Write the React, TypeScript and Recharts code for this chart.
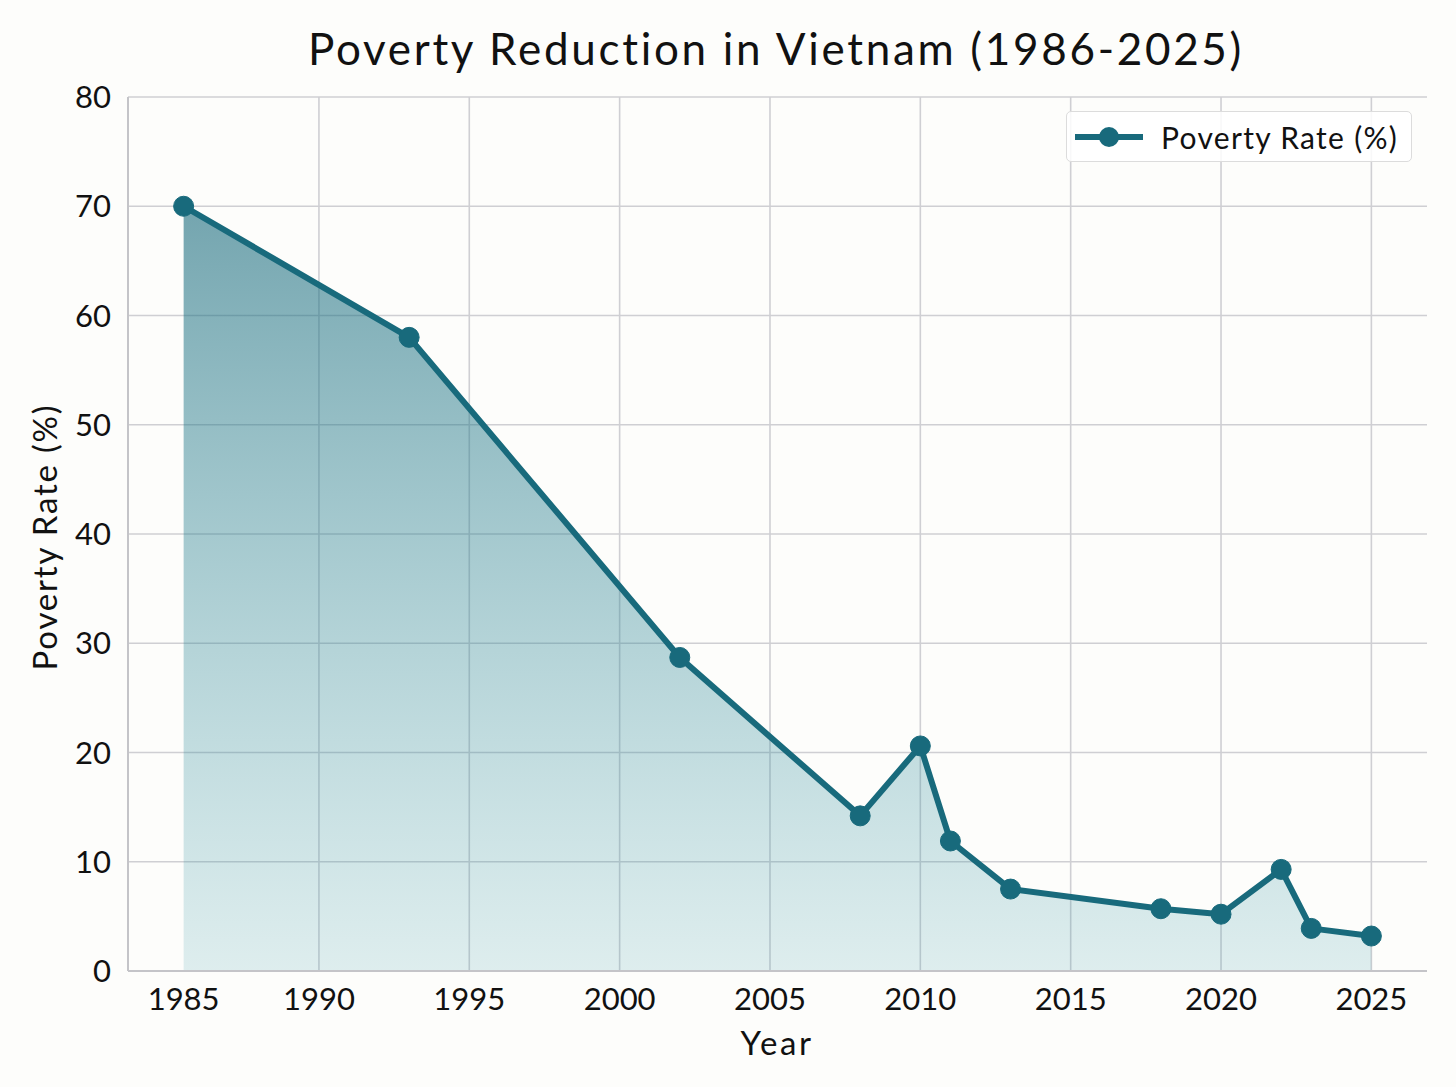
import React from 'react';
import { ComposedChart, Area, XAxis, YAxis, CartesianGrid, Legend } from 'recharts';

const years = [1985.5, 1993, 2002, 2008, 2010, 2011, 2013, 2018, 2020, 2022, 2023, 2025];
const povertyRate = [70.0, 58.0, 28.7, 14.2, 20.6, 11.9, 7.5, 5.7, 5.2, 9.3, 3.9, 3.2];
const xTicks = [1985.5, 1990, 1995, 2000, 2005, 2010, 2015, 2020, 2025];
const gridYears = [1990, 1995, 2000, 2005, 2010, 2015, 2020, 2025];
const yTicks = [0, 10, 20, 30, 40, 50, 60, 70, 80];
const xDomain = [1983.65, 2026.85];
const seriesName = 'Poverty Rate (%)';

const data = years.map((y, i) => ({ year: y, rate: povertyRate[i] }));

const FONT = 'Lato, "Noto Sans", sans-serif';
const TEAL = '#186a7c';
const BG = '#fdfdfb';
const GRID = '#cfcfd3';

const LegendBox = () => (
  <div
    style={{
      width: 346,
      height: 51,
      boxSizing: 'border-box',
      border: '1.5px solid #dcdcdc',
      borderRadius: 5,
      background: 'rgba(255,255,255,0.85)',
      display: 'flex',
      alignItems: 'center',
      fontFamily: FONT,
      fontSize: 30,
      letterSpacing: 1.3,
      color: '#111',
    }}
  >
    <svg width={94} height={50} style={{ display: 'block' }}>
      <line x1={8} x2={76} y1={25} y2={25} stroke={TEAL} strokeWidth={6} />
      <circle cx={42} cy={25} r={10} fill={TEAL} />
    </svg>
    <span>{seriesName}</span>
  </div>
);

export default function App() {
  return (
    <div
      style={{
        position: 'absolute',
        left: 0,
        top: 0,
        width: 1456,
        height: 1087,
        background: BG,
        fontFamily: FONT,
      }}
    >
      <div
        style={{
          position: 'absolute',
          left: 0,
          width: 1552,
          top: 20,
          textAlign: 'center',
          fontSize: 44,
          letterSpacing: 2.7,
          color: '#111',
          lineHeight: '56px',
        }}
      >
        Poverty Reduction in Vietnam (1986-2025)
      </div>
      <div
        style={{
          position: 'absolute',
          left: 44,
          top: 537,
          transform: 'translate(-50%, -50%) rotate(-90deg)',
          fontSize: 33,
          letterSpacing: 1.8,
          color: '#111',
          whiteSpace: 'nowrap',
        }}
      >
        {seriesName}
      </div>
      <div
        style={{
          position: 'absolute',
          left: 777,
          top: 1042,
          transform: 'translate(-50%, -50%)',
          fontSize: 33,
          letterSpacing: 2.5,
          color: '#111',
        }}
      >
        Year
      </div>
      <ComposedChart
        width={1456}
        height={1087}
        data={data}
        margin={{ top: 97, right: 29, left: 68, bottom: 56 }}
        style={{ position: 'absolute', left: 0, top: 0 }}
      >
        <defs>
          <linearGradient id="areaFill" x1="0" y1="0" x2="0" y2="1">
            <stop offset="0%" stopColor={TEAL} stopOpacity={0.6} />
            <stop offset="100%" stopColor="#3a9aa8" stopOpacity={0.16} />
          </linearGradient>
        </defs>
        <CartesianGrid
          stroke={GRID}
          strokeWidth={1.6}
          verticalCoordinatesGenerator={(props: any) => {
            const xa = props.xAxis;
            if (xa && typeof xa.scale === 'function') {
              return gridYears.map((g) => xa.scale(g));
            }
            const off = props.offset;
            return gridYears.map(
              (g) => off.left + ((g - xDomain[0]) / (xDomain[1] - xDomain[0])) * off.width
            );
          }}
        />
        <XAxis
          dataKey="year"
          type="number"
          domain={xDomain}
          allowDataOverflow
          ticks={xTicks}
          tickFormatter={(v: number) => String(Math.floor(v))}
          height={60}
          tickSize={0}
          tickMargin={17}
          axisLine={{ stroke: '#c4c4c8', strokeWidth: 2 }}
          tick={{ fill: '#111', fontSize: 31, fontFamily: FONT }}
        />
        <YAxis
          type="number"
          domain={[0, 80]}
          ticks={yTicks}
          width={60}
          tickSize={0}
          tickMargin={17}
          axisLine={{ stroke: '#c4c4c8', strokeWidth: 2 }}
          tick={{ fill: '#111', fontSize: 31, fontFamily: FONT }}
        />
        <Legend
          layout="vertical"
          align="center"
          verticalAlign="middle"
          wrapperStyle={{ left: 1066, top: 111, width: 346, height: 51 }}
          content={() => <LegendBox />}
        />
        <Area
          type="linear"
          dataKey="rate"
          name={seriesName}
          stroke={TEAL}
          strokeWidth={6}
          strokeLinejoin="round"
          fill="url(#areaFill)"
          fillOpacity={1}
          baseValue={0}
          dot={{ r: 10, fill: TEAL, stroke: TEAL, strokeWidth: 1, fillOpacity: 1 }}
          activeDot={false}
          isAnimationActive={false}
        />
      </ComposedChart>
    </div>
  );
}
